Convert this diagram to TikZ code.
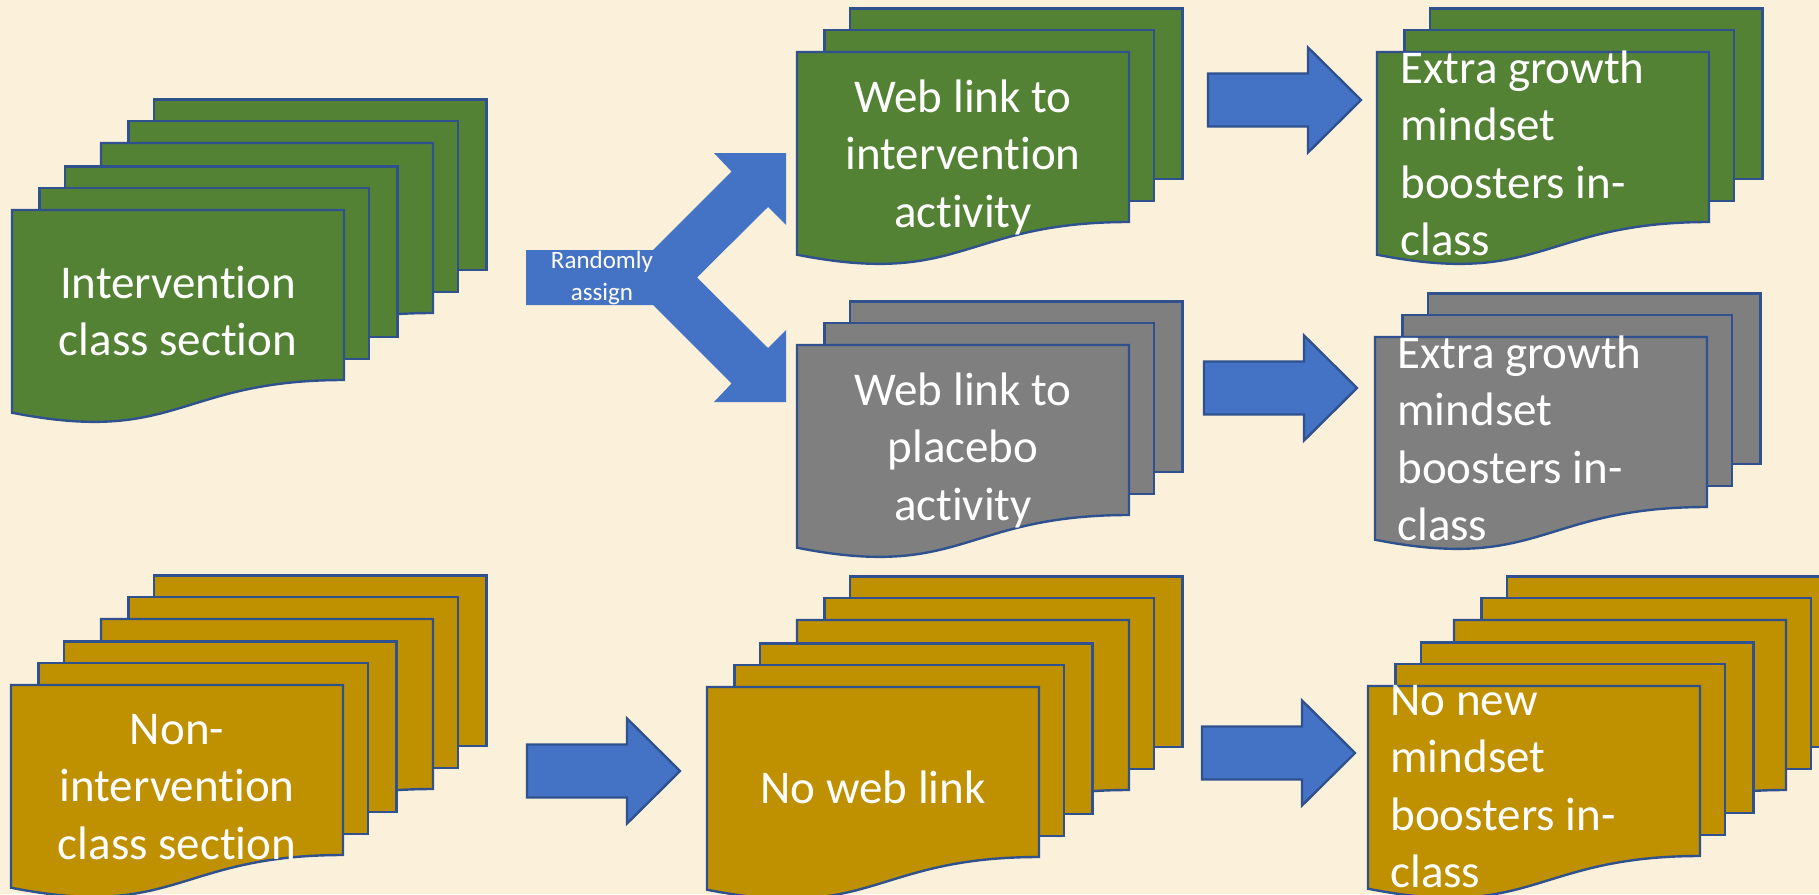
\documentclass[tikz,border=0pt]{standalone}
\usepackage{fontspec}
\setmainfont{Carlito}[Ligatures={NoCommon}]

\definecolor{paper}{HTML}{FBF0D9}
\definecolor{leaf}{HTML}{548235}
\definecolor{slate}{HTML}{7F7F7F}
\definecolor{ochre}{HTML}{BF9000}
\definecolor{arrowblue}{HTML}{4472C4}
\definecolor{edge}{HTML}{2F528F}

\newcommand\bigtxt{\fontsize{23.5}{28.75}\selectfont}
\newcommand\smalltxt{\fontsize{12.5}{16}\selectfont}

\tikzset{
  page/.style={draw=edge, line width=1.2pt, line join=miter},
  blockarrow/.style={fill=arrowblue, draw=edge, line width=1.2pt, line join=miter},
  caption/.style={text=white, inner sep=0pt, font=\bigtxt},
  smallcaption/.style={text=white, inner sep=0pt, font=\smalltxt},
}

% three stacked pages, the front one with a wavy lower edge;
% #1 fill, (#2,#3) top left corner of the front page
\newcommand\multidoc[3]{%
  \begin{scope}[shift={(#2,#3)}]
    \path[page, fill=#1] (53.1,-43.5) rectangle (385.6,127);
    \path[page, fill=#1] (27.4,-22) rectangle (357.1,149);
    \path[page, fill=#1] (0,0) -- (332,0) -- (332,170)
      .. controls (166,170) and (166,235.4) .. (0,202.7) -- cycle;
  \end{scope}}

% right-pointing block arrow; (#1,#2) = tail end on the centre line
\newcommand\rightblock[2]{%
  \begin{scope}[shift={(#1,#2)}]
    \path[blockarrow] (0,-26.5) -- (100,-26.5) -- (100,-52.5) -- (153,0)
      -- (100,52.5) -- (100,26.5) -- (0,26.5) -- cycle;
  \end{scope}}

\begin{document}
\begin{tikzpicture}[x=0.5pt, y=-0.5pt]
  \useasboundingbox (0,0) rectangle (1819,894);
  \clip (0,0) rectangle (1819,894);
  \fill[paper] (0,0) rectangle (1819,894);

  % ---- intervention sections ----
  \multidoc{leaf}{101}{143}
  \multidoc{leaf}{12}{210}
  \node[caption, anchor=base] (intv) at (178,298)
    {\begin{tabular}[t]{@{}c@{}}Intervention\\class section\end{tabular}};

  % ---- random assignment fork ----
  \fill[arrowblue] (526,250) -- (653,250) -- (731.5,171.5) -- (714,153)
    -- (786,153) -- (786,225) -- (768,207) -- (697,277.5)
    -- (768,348) -- (786,330) -- (786,402) -- (714,402)
    -- (731.5,383.5) -- (653,305) -- (526,305) -- cycle;
  \node[smallcaption, anchor=base] (rand) at (602,268)
    {\begin{tabular}[t]{@{}c@{}}Randomly\\assign\end{tabular}};

  % ---- intervention branch ----
  \multidoc{leaf}{797}{52}
  \node[caption, anchor=base] (webint) at (963,112)
    {\begin{tabular}[t]{@{}c@{}}Web link to\\intervention\\activity\end{tabular}};
  \rightblock{1208}{100}
  \multidoc{leaf}{1377}{52}
  \node[caption, anchor=base west] (boost1) at (1400,83)
    {\begin{tabular}[t]{@{}l@{}}Extra growth\\mindset\\boosters in-\\class\end{tabular}};

  % ---- placebo branch ----
  \multidoc{slate}{797}{345}
  \node[caption, anchor=base] (placebo) at (963,405)
    {\begin{tabular}[t]{@{}c@{}}Web link to\\placebo\\activity\end{tabular}};
  \rightblock{1204}{388}
  \multidoc{slate}{1375}{337}
  \node[caption, anchor=base west] (boost2) at (1397,368)
    {\begin{tabular}[t]{@{}l@{}}Extra growth\\mindset\\boosters in-\\class\end{tabular}};

  % ---- non-intervention sections ----
  \multidoc{ochre}{101}{619}
  \multidoc{ochre}{11}{685}
  \node[caption, anchor=base] (nonint) at (177,744)
    {\begin{tabular}[t]{@{}c@{}}Non-\\intervention\\class section\end{tabular}};
  \rightblock{527}{771}
  \multidoc{ochre}{797}{620}
  \multidoc{ochre}{707}{687}
  \node[caption, anchor=base] (noweb) at (873,803) {No web link};
  \rightblock{1202}{753}
  \multidoc{ochre}{1454}{620}
  \multidoc{ochre}{1368}{686}
  \node[caption, anchor=base west] (nonew) at (1390,715)
    {\begin{tabular}[t]{@{}l@{}}No new\\mindset\\boosters in-\\class\end{tabular}};
\end{tikzpicture}
\end{document}
